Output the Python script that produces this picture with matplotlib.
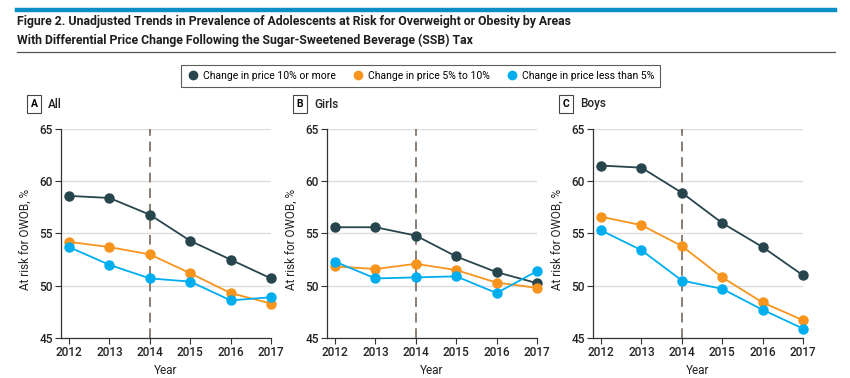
import matplotlib.pyplot as plt
from matplotlib.lines import Line2D

plt.rcParams['font.family'] = ['Roboto', 'DejaVu Sans']

years = [2012, 2013, 2014, 2015, 2016, 2017]
series_names = ['Change in price 10% or more', 'Change in price 5% to 10%',
                'Change in price less than 5%']
colors = ['#27454d', '#f7941d', '#00aeef']

all_high = [58.6, 58.4, 56.8, 54.3, 52.5, 50.7]
all_mid = [54.2, 53.7, 53.0, 51.2, 49.3, 48.3]
all_low = [53.7, 52.0, 50.7, 50.4, 48.6, 48.9]

girls_high = [55.6, 55.6, 54.8, 52.8, 51.3, 50.25]
girls_mid = [51.85, 51.6, 52.1, 51.5, 50.3, 49.8]
girls_low = [52.3, 50.7, 50.8, 50.9, 49.3, 51.4]

boys_high = [61.5, 61.3, 58.9, 56.0, 53.7, 51.0]
boys_mid = [56.6, 55.8, 53.8, 50.8, 48.4, 46.7]
boys_low = [55.3, 53.4, 50.5, 49.7, 47.7, 45.9]

panels = [('A', 'All', [all_high, all_mid, all_low]),
          ('B', 'Girls', [girls_high, girls_mid, girls_low]),
          ('C', 'Boys', [boys_high, boys_mid, boys_low])]

fig = plt.figure(figsize=(8.5, 3.78), dpi=100)
W, H = 850.0, 378.0

# header: blue bar, two title lines, grey rule
fig.add_artist(Line2D([17 / W, 835 / W], [1 - 10 / H, 1 - 10 / H], color='#0a8fc4', lw=3.2))
fig.add_artist(Line2D([17 / W, 835 / W], [1 - 52 / H, 1 - 52 / H], color='#555555', lw=0.9))
fig.text(17 / W, 1 - 21 / H, 'Figure 2. Unadjusted Trends in Prevalence of Adolescents at Risk for Overweight or Obesity by Areas',
         fontsize=8.8, fontweight='bold', color='#1e1e1e', va='center', ha='left')
fig.text(17 / W, 1 - 40 / H, 'With Differential Price Change Following the Sugar-Sweetened Beverage (SSB) Tax',
         fontsize=8.8, fontweight='bold', color='#1e1e1e', va='center', ha='left')

lefts = [61, 327, 593]
for (letter, name, data), lx in zip(panels, lefts):
    ax = fig.add_axes([lx / W, 1 - 338 / H, 210 / W, 209 / H])
    ax.set_xlim(2011.8, 2017)
    ax.set_ylim(45, 65)
    ax.set_yticks([45, 50, 55, 60, 65])
    ax.set_xticks(years)
    ax.grid(axis='y', color='#dddddd', lw=1)
    ax.set_axisbelow(True)
    for s in ['top', 'right']:
        ax.spines[s].set_visible(False)
    for s in ['left', 'bottom']:
        ax.spines[s].set_color('#333333')
        ax.spines[s].set_linewidth(0.9)
    ax.tick_params(colors='#333333', labelcolor='#222222', labelsize=8.5, length=4, width=0.8, pad=2)
    for t in ax.get_xticklabels() + ax.get_yticklabels():
        t.set_fontweight('medium')
    ax.axvline(2014, color='#8a7e72', ls=(0, (5, 3)), lw=1.4, zorder=1)
    for vals, c in zip(data, colors):
        ax.plot(years, vals, color=c, lw=1.3, marker='o', ms=6.5, clip_on=False, zorder=3)
    ax.set_xlabel('Year', fontsize=8.5, color='#222222', labelpad=3)
    ax.set_ylabel('At risk for OWOB, %', fontsize=8.5, color='#222222')
    ax.yaxis.set_label_coords(-29 / 210, 0.47)
    fig.text((lx - 27) / W, 1 - 104 / H, letter, fontsize=7.5, fontweight='bold', ha='center', va='center',
             bbox=dict(boxstyle='square,pad=0.35', fc='white', ec='#444444', lw=0.8))
    fig.text((lx - 13) / W, 1 - 104 / H, name, fontsize=8.5, fontweight='medium', ha='left', va='center',
             color='#222222')

handles = [Line2D([], [], color=c, marker='o', ls='none', ms=6) for c in colors]
leg = fig.legend(handles, series_names, ncol=3, loc='center', bbox_to_anchor=(420.5 / W, 1 - 76 / H),
                 frameon=True, fancybox=False, edgecolor='#333333', fontsize=7.5,
                 handletextpad=0.4, columnspacing=1.5, borderpad=0.55, handlelength=1.2)
leg.get_frame().set_linewidth(0.8)

fig.savefig('out.png', dpi=100, facecolor='white')
